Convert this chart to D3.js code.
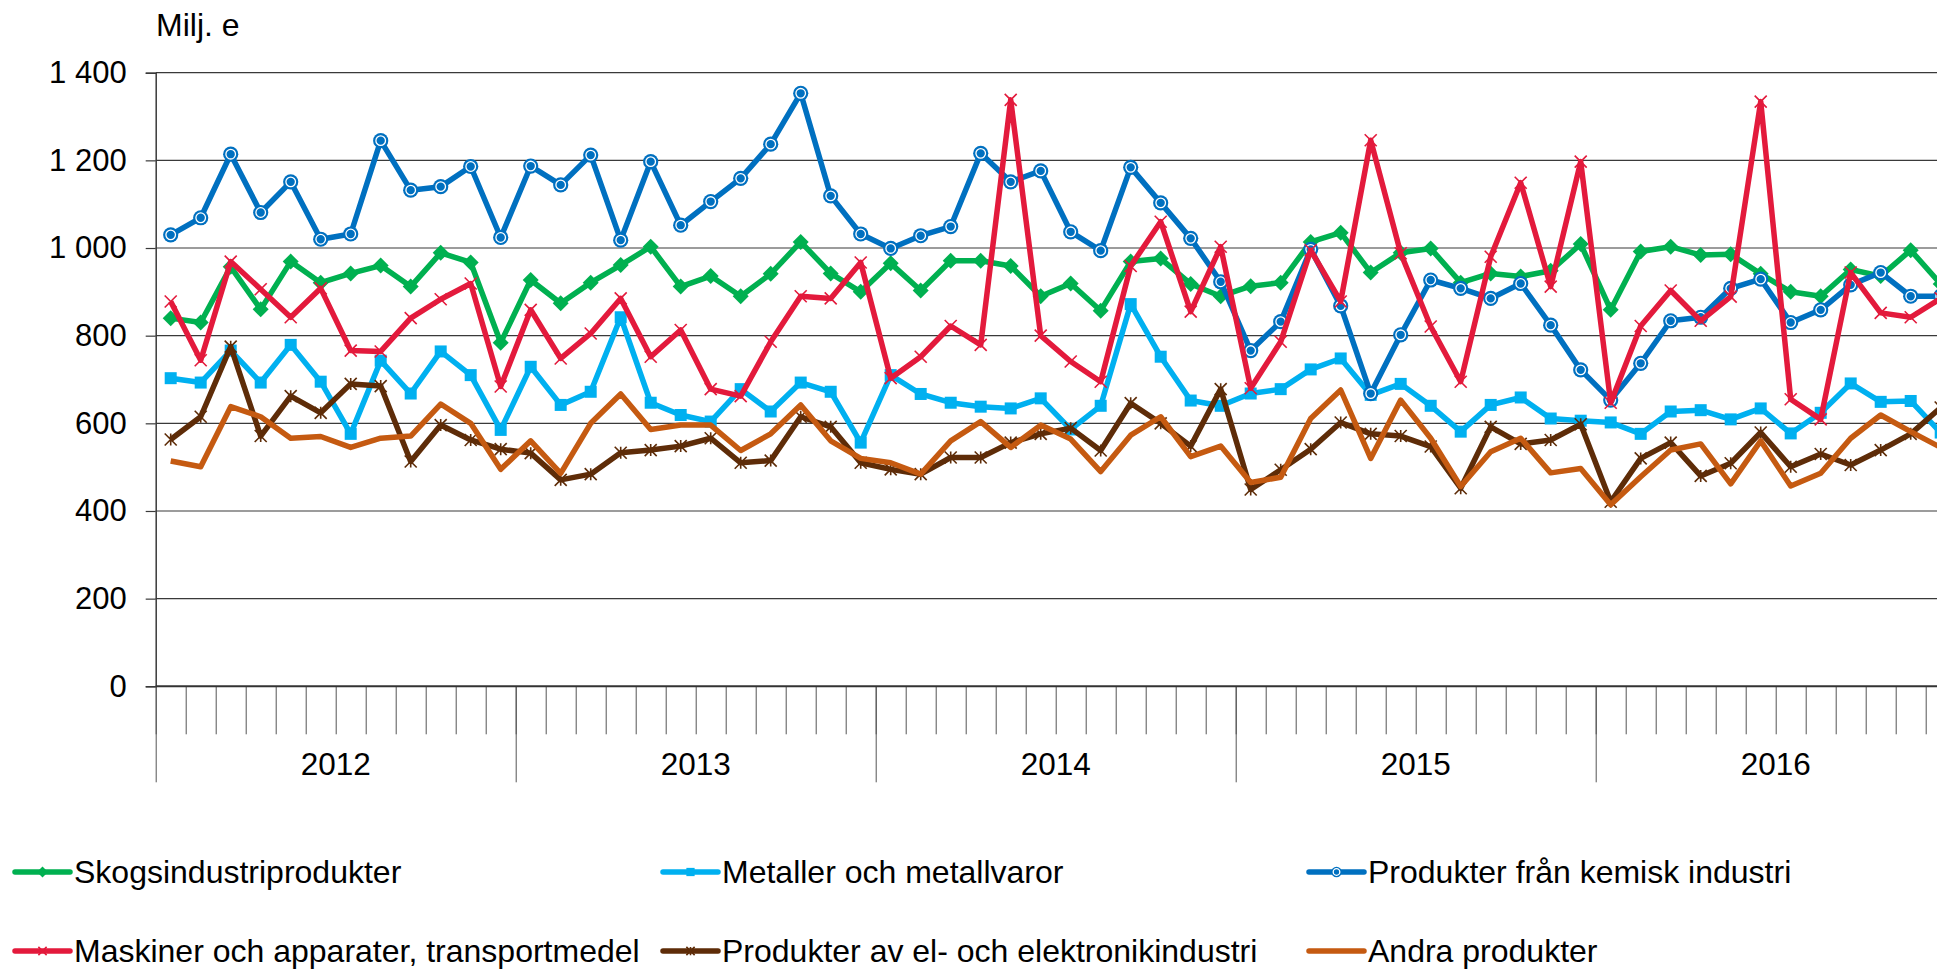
<!DOCTYPE html>
<html lang="sv">
<head>
  <meta charset="UTF-8">
  <title>Export per varugrupp</title>
  <script src="https://cdn.jsdelivr.net/npm/d3@7"></script>
  <style>
    body { margin: 0; background: #fff; }
    svg { display: block; font-family: "Liberation Sans", Arial, sans-serif; }
  </style>
</head>
<body>
  <div id="chart"></div>

  <script>
    // monthly values, Jan 2012 - Dec 2016 (milj. e)
    const years = ["2012", "2013", "2014", "2015", "2016"];
    const yTicks = [0, 200, 400, 600, 800, 1000, 1200, 1400];

    const skogs = [840, 830, 957, 860, 969, 921, 942, 960, 912, 989, 967, 784,
      927, 874, 921, 961, 1003, 912, 936, 890, 941, 1014, 942, 900,
      965, 903, 971, 971, 959, 890, 919, 857, 969, 976, 918, 890,
      913, 921, 1014, 1035, 944, 989, 999, 921, 942, 935, 948, 1009,
      859, 992, 1003, 984, 986, 941, 900, 890, 951, 936, 995, 918];
    const metaller = [703, 693, 766, 693, 779, 695, 576, 743, 668, 764, 710, 585,
      729, 642, 672, 842, 647, 619, 604, 678, 627, 693, 672, 556,
      710, 667, 647, 638, 634, 657, 586, 640, 872, 752, 652, 640,
      668, 678, 723, 748, 665, 690, 640, 581, 642, 659, 611, 606,
      602, 576, 627, 630, 609, 634, 577, 624, 691, 649, 651, 579];
    const kemisk = [1030, 1069, 1214, 1081, 1151, 1020, 1032, 1245, 1132, 1140, 1186, 1024,
      1187, 1144, 1212, 1018, 1197, 1052, 1106, 1159, 1237, 1353, 1119, 1032,
      999, 1028, 1049, 1216, 1151, 1176, 1037, 994, 1184, 1103, 1022, 923,
      766, 832, 997, 868, 668, 802, 927, 908, 885, 919, 824, 722,
      653, 737, 834, 842, 908, 929, 830, 859, 916, 944, 890, 890];
    const maskiner = [878, 744, 969, 906, 842, 908, 766, 764, 840, 883, 919, 684,
      859, 748, 805, 885, 752, 813, 678, 662, 786, 890, 885, 967,
      703, 752, 822, 779, 1338, 800, 741, 695, 959, 1060, 855, 1003,
      680, 786, 995, 878, 1246, 988, 821, 695, 980, 1149, 912, 1197,
      647, 822, 903, 834, 889, 1334, 655, 609, 944, 852, 842, 885];
    const elektronik = [563, 615, 775, 571, 662, 624, 690, 685, 513, 596, 562, 541,
      532, 471, 484, 533, 539, 548, 566, 510, 515, 615, 592, 510,
      495, 484, 522, 522, 556, 576, 589, 538, 646, 600, 548, 678,
      449, 494, 541, 602, 576, 571, 547, 452, 592, 553, 562, 598,
      421, 520, 556, 480, 509, 579, 501, 530, 505, 539, 576, 636];
    const andra = [514, 501, 638, 615, 566, 570, 545, 566, 571, 644, 600, 495,
      560, 486, 600, 667, 586, 596, 596, 538, 576, 642, 560, 520,
      510, 484, 560, 604, 545, 596, 564, 490, 573, 615, 524, 548,
      465, 477, 611, 676, 520, 653, 566, 456, 535, 566, 487, 497,
      414, 478, 539, 553, 462, 560, 457, 486, 566, 619, 581, 545];

    const series = [
      { name: "Skogsindustriprodukter", values: skogs, color: "#00B050", marker: "diamond" },
      { name: "Metaller och metallvaror", values: metaller, color: "#00B0F0", marker: "square" },
      { name: "Produkter från kemisk industri", values: kemisk, color: "#0070C0", marker: "circle" },
      { name: "Maskiner och apparater, transportmedel", values: maskiner, color: "#E31A3C", marker: "x" },
      { name: "Produkter av el- och elektronikindustri", values: elektronik, color: "#5E2C08", marker: "star" },
      { name: "Andra produkter", values: andra, color: "#C55A11", marker: "none" }
    ];

    const width = 1937, height = 970;
    const plotLeft = 155.7, plotTop = 72.7, plotBottom = 686.3, monthW = 30;
    const nMonths = years.length * 12;

    const svg = d3.select("#chart").append("svg")
      .attr("width", width)
      .attr("height", height);

    const x = d3.scaleLinear().domain([0, nMonths]).range([plotLeft, plotLeft + nMonths * monthW]);
    const y = d3.scaleLinear().domain([0, 1400]).range([plotBottom, plotTop]);

    const fmt = d3.formatLocale({ decimal: ",", thousands: " ", grouping: [3], currency: ["", ""] }).format(",d");

    // gridlines
    svg.append("g")
      .selectAll("line")
      .data(yTicks.filter(d => d > 0))
      .join("line")
        .attr("x1", plotLeft).attr("x2", width)
        .attr("y1", d => y(d)).attr("y2", d => y(d))
        .attr("stroke", "#3a3a3a")
        .attr("stroke-width", 1.2);

    // y axis
    const yAxis = svg.append("g")
      .attr("transform", `translate(${plotLeft},0)`)
      .call(d3.axisLeft(y).tickValues(yTicks).tickSize(10).tickPadding(19).tickFormat(fmt));
    yAxis.select(".domain").attr("stroke", "#3a3a3a").attr("stroke-width", 1.5);
    yAxis.selectAll(".tick line").attr("stroke", "#3a3a3a").attr("stroke-width", 1.2);
    yAxis.selectAll("text")
      .attr("font-size", 31)
      .attr("font-family", "'Liberation Sans', Arial, sans-serif")
      .attr("fill", "#000");

    // month ticks
    const xAxis = svg.append("g")
      .attr("transform", `translate(0,${plotBottom})`)
      .call(d3.axisBottom(x).tickValues(d3.range(0, nMonths + 1)).tickSize(48).tickFormat(""));
    xAxis.select(".domain").remove();
    xAxis.selectAll(".tick line").attr("stroke", "#555").attr("stroke-width", 1);

    // year separators
    const yearAxis = svg.append("g")
      .attr("transform", `translate(0,${plotBottom})`)
      .call(d3.axisBottom(x).tickValues(d3.range(0, nMonths + 1, 12)).tickSize(96).tickFormat(""));
    yearAxis.select(".domain").remove();
    yearAxis.selectAll(".tick line").attr("stroke", "#555").attr("stroke-width", 1);

    svg.append("line")
      .attr("x1", plotLeft).attr("x2", width)
      .attr("y1", plotBottom).attr("y2", plotBottom)
      .attr("stroke", "#333").attr("stroke-width", 2);

    svg.append("g")
      .selectAll("text")
      .data(years)
      .join("text")
        .attr("x", (d, i) => x(i * 12 + 6))
        .attr("y", 775)
        .attr("text-anchor", "middle")
        .attr("font-size", 31.5)
        .text(d => d);

    svg.append("text")
      .attr("x", 156).attr("y", 36)
      .attr("font-size", 32)
      .text("Milj. e");

    // markers
    function drawMarker(g, type, color, s) {
      if (type === "diamond") {
        g.append("path").attr("d", `M0,${-s}L${s},0L0,${s}L${-s},0Z`).attr("fill", color);
      } else if (type === "square") {
        g.append("rect").attr("x", -s * 0.75).attr("y", -s * 0.75)
          .attr("width", s * 1.5).attr("height", s * 1.5).attr("fill", color);
      } else if (type === "circle") {
        g.append("circle").attr("r", s * 0.95).attr("fill", color);
        g.append("circle").attr("r", s * 0.6).attr("fill", "none").attr("stroke", "#fff").attr("stroke-width", 1.3);
      } else if (type === "x" || type === "star") {
        const a = s * 0.75;
        let d = `M${-a},${-a}L${a},${a}M${-a},${a}L${a},${-a}`;
        if (type === "star") d += `M0,${-a}L0,${a}`;
        g.append("path").attr("d", d).attr("stroke", color).attr("stroke-width", 1.6).attr("fill", "none");
      }
    }

    const line = d3.line()
      .x((d, i) => x(i + 0.5))
      .y(d => y(d));

    series.forEach(s => {
      const g = svg.append("g");
      g.append("path")
        .datum(s.values)
        .attr("d", line)
        .attr("fill", "none")
        .attr("stroke", s.color)
        .attr("stroke-width", 5.5)
        .attr("stroke-linejoin", "round");
      g.selectAll("g.m")
        .data(s.values)
        .join("g")
          .attr("class", "m")
          .attr("transform", (d, i) => `translate(${x(i + 0.5)},${y(d)})`)
          .each(function () { drawMarker(d3.select(this), s.marker, s.color, 8); });
    });

    // legend
    const legendCols = [15, 663, 1309];
    const legendRows = [872, 951];
    const legend = svg.append("g")
      .selectAll("g")
      .data(series)
      .join("g")
        .attr("transform", (d, i) => `translate(${legendCols[i % 3]},${legendRows[Math.floor(i / 3)]})`);
    legend.append("line")
      .attr("x1", 0).attr("x2", 55)
      .attr("stroke", d => d.color)
      .attr("stroke-width", 5.5)
      .attr("stroke-linecap", "round");
    legend.append("g")
      .attr("transform", "translate(27.5,0)")
      .each(function (d) { drawMarker(d3.select(this), d.marker, d.color, 5.5); });
    legend.append("text")
      .attr("x", 59)
      .attr("dy", "0.35em")
      .attr("font-size", 32)
      .text(d => d.name);
  </script>
</body>
</html>
